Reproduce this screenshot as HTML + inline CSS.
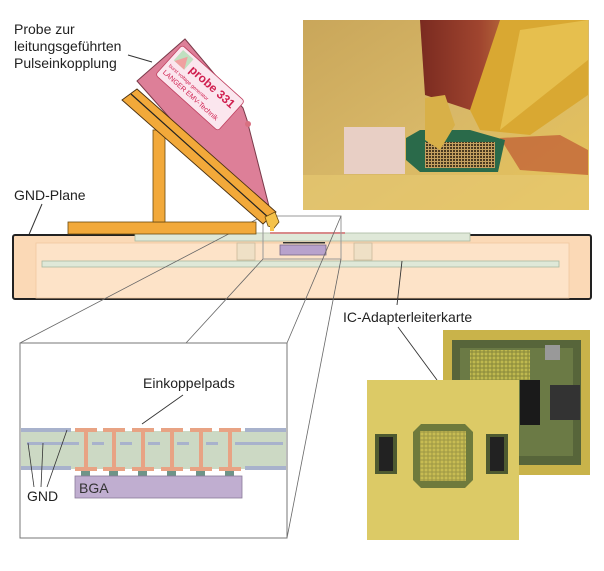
<!DOCTYPE html>
<html><head><meta charset="utf-8"><style>
html,body{margin:0;padding:0;background:#fff;width:604px;height:571px;overflow:hidden}
svg{display:block}
text{font-family:"Liberation Sans",sans-serif}
</style></head><body>
<svg width="604" height="571" viewBox="0 0 604 571" xmlns="http://www.w3.org/2000/svg">
<defs>
<linearGradient id="gold" x1="0" y1="0" x2="1" y2="1">
<stop offset="0" stop-color="#c9a65a"/><stop offset="0.5" stop-color="#d8b868"/><stop offset="1" stop-color="#e8c458"/>
</linearGradient>
<linearGradient id="red" x1="0" y1="0" x2="1" y2="0">
<stop offset="0" stop-color="#7a2a20"/><stop offset="0.6" stop-color="#a0452f"/><stop offset="1" stop-color="#c07a40"/>
</linearGradient>
<pattern id="grid" width="3" height="3" patternUnits="userSpaceOnUse"><rect width="3" height="3" fill="#c4a060"/><rect width="2" height="2" fill="#4a3a20"/></pattern>
<pattern id="grid2" width="4" height="4" patternUnits="userSpaceOnUse"><rect width="4" height="4" fill="#8a8a3a"/><rect x="0.5" y="0.5" width="3" height="3" fill="#c8c050"/></pattern>
</defs>

<rect x="303" y="20" width="286" height="190" fill="url(#gold)"/>
<rect x="344" y="127" width="61" height="47" fill="#e8cfc5"/>
<polygon points="420,20 520,20 510,95 470,110 425,95" fill="url(#red)"/>
<polygon points="500,20 588,20 588,95 530,135 480,130 470,110" fill="#d9a832"/>
<polygon points="520,30 588,20 588,60 500,130" fill="#e9c455" opacity="0.8"/>
<polygon points="500,138 560,135 588,150 588,175 520,170" fill="#c46a3a" opacity="0.85"/>
<polygon points="406,138 420,130 470,130 505,140 498,172 420,172 406,160" fill="#2a6a4a"/>
<rect x="425" y="142" width="70" height="26" fill="url(#grid)"/>
<polygon points="425,98 445,95 455,125 440,150 425,140" fill="#d8b048"/>
<rect x="303" y="175" width="286" height="35" fill="#e6c870" opacity="0.7"/>

<text x="14" y="34" font-size="14" fill="#222">Probe zur</text>
<text x="14" y="51" font-size="14" fill="#222">leitungsgeführten</text>
<text x="14" y="68" font-size="14" fill="#222">Pulseinkopplung</text>
<line x1="128" y1="55" x2="152" y2="62" stroke="#333" stroke-width="1"/>
<text x="14" y="200" font-size="14" fill="#222">GND-Plane</text>
<line x1="42" y1="204" x2="25" y2="244" stroke="#333" stroke-width="1"/>

<rect x="13" y="235" width="578" height="64" rx="2" fill="#fbd9b6" stroke="#222" stroke-width="2"/>
<rect x="36" y="243" width="533" height="55" fill="#fde3c8" stroke="#f0c8a0" stroke-width="0.8"/>
<rect x="135" y="233" width="335" height="8" fill="#dfe8d8" stroke="#a8b8a0" stroke-width="0.8"/>
<rect x="42" y="261" width="517" height="6" fill="#dfe8d8" stroke="#a8b8a0" stroke-width="0.8"/>
<rect x="237" y="243" width="18" height="17" fill="#efe0c6" stroke="#cbb99a" stroke-width="0.8"/>
<rect x="354" y="243" width="18" height="17" fill="#efe0c6" stroke="#cbb99a" stroke-width="0.8"/>
<rect x="270" y="232" width="75" height="2" fill="#d88a8a"/>
<rect x="283" y="242" width="42" height="1.5" fill="#333"/>
<rect x="280" y="245" width="46" height="10" fill="#b8a2cc" stroke="#776688" stroke-width="0.8"/>
<rect x="263" y="216" width="78" height="43" fill="none" stroke="#999" stroke-width="1"/>

<line x1="263" y1="216" x2="20" y2="343" stroke="#666" stroke-width="0.8"/>
<line x1="263" y1="259" x2="186" y2="343" stroke="#666" stroke-width="0.8"/>
<line x1="341" y1="216" x2="287" y2="343" stroke="#666" stroke-width="0.8"/>
<line x1="341" y1="259" x2="287" y2="538" stroke="#666" stroke-width="0.8"/>

<rect x="68" y="222" width="188" height="12" fill="#f2a93a" stroke="#6a4a10" stroke-width="0.8"/>
<rect x="153" y="130" width="12" height="92" fill="#f2a93a" stroke="#6a4a10" stroke-width="0.8"/>
<polygon points="137,81 185,39 243,108 247,120 272,218 262,222" fill="#dd7f98" stroke="#7a3a4a" stroke-width="1"/>
<circle cx="248" cy="124" r="3" fill="#d87080"/>
<polygon points="122,100 137,89 276,212 263,224" fill="#f2a93a" stroke="#4a3010" stroke-width="0.9"/>
<line x1="131" y1="94" x2="269" y2="218" stroke="#222" stroke-width="1.2"/>
<polygon points="265,217 275,212 279,222 274,228 268,226" fill="#f5c24a" stroke="#6a4a10" stroke-width="0.8"/>
<rect x="270" y="226" width="4" height="5" fill="#f5c24a"/>
<g transform="translate(200,88) rotate(42)">
<rect x="-42" y="-20" width="84" height="40" rx="3" fill="#fbe6ee" stroke="#c04060" stroke-width="0.8"/>
<rect x="-38" y="-17" width="14" height="14" fill="#c0e0c0"/>
<polygon points="-37,-3 -30,-15 -24,-3" fill="#f0a0a0"/>
<text x="-20" y="-5" font-size="12" fill="#d02050" font-weight="bold">probe 331</text>
<text x="-38" y="5" font-size="5" fill="#d02050">burst voltage generator</text>
<text x="-38" y="14" font-size="7" fill="#d02050">LANGER EMV-Technik</text>
</g>

<rect x="20" y="343" width="267" height="195" fill="#fff" stroke="#777" stroke-width="1"/>
<rect x="21" y="431" width="265" height="38" fill="#ccd9c4"/>
<rect x="21" y="428" width="50" height="4" fill="#a8b2cc"/>
<rect x="245" y="428" width="41" height="4" fill="#a8b2cc"/>
<rect x="21" y="466" width="50" height="4" fill="#a8b2cc"/>
<rect x="245" y="466" width="41" height="4" fill="#a8b2cc"/>
<g fill="#a8b2cc">
<rect x="27" y="442" width="52" height="3"/><rect x="92" y="442" width="12" height="3"/><rect x="120" y="442" width="12" height="3"/><rect x="148" y="442" width="12" height="3"/><rect x="177" y="442" width="12" height="3"/><rect x="206" y="442" width="12" height="3"/><rect x="235" y="442" width="48" height="3"/>
</g>
<g fill="#e8a384">
<rect x="75" y="428" width="22" height="4"/><rect x="84" y="432" width="4" height="35"/><rect x="75" y="467" width="22" height="4"/>
<rect x="103" y="428" width="22" height="4"/><rect x="112" y="432" width="4" height="35"/><rect x="103" y="467" width="22" height="4"/>
<rect x="132" y="428" width="22" height="4"/><rect x="141" y="432" width="4" height="35"/><rect x="132" y="467" width="22" height="4"/>
<rect x="161" y="428" width="22" height="4"/><rect x="170" y="432" width="4" height="35"/><rect x="161" y="467" width="22" height="4"/>
<rect x="190" y="428" width="22" height="4"/><rect x="199" y="432" width="4" height="35"/><rect x="190" y="467" width="22" height="4"/>
<rect x="219" y="428" width="22" height="4"/><rect x="228" y="432" width="4" height="35"/><rect x="219" y="467" width="22" height="4"/>
</g>
<g fill="#6f9488">
<rect x="81" y="471" width="9" height="5"/><rect x="109" y="471" width="9" height="5"/><rect x="138" y="471" width="9" height="5"/><rect x="167" y="471" width="9" height="5"/><rect x="196" y="471" width="9" height="5"/><rect x="225" y="471" width="9" height="5"/>
</g>
<rect x="75" y="476" width="167" height="22" fill="#c0aed0" stroke="#8a7a9a" stroke-width="0.8"/>
<text x="79" y="493" font-size="14" fill="#333">BGA</text>
<text x="143" y="388" font-size="14" fill="#222">Einkoppelpads</text>
<line x1="183" y1="395" x2="142" y2="424" stroke="#333" stroke-width="0.9"/>
<text x="27" y="501" font-size="14" fill="#222">GND</text>
<line x1="34" y1="487" x2="28" y2="443" stroke="#333" stroke-width="0.8"/>
<line x1="41" y1="487" x2="43" y2="443" stroke="#333" stroke-width="0.8"/>
<line x1="47" y1="487" x2="67" y2="430" stroke="#333" stroke-width="0.8"/>

<text x="343" y="322" font-size="14" fill="#222">IC-Adapterleiterkarte</text>
<line x1="398" y1="327" x2="437" y2="380" stroke="#333" stroke-width="0.9"/>
<line x1="402" y1="261" x2="397" y2="305" stroke="#333" stroke-width="0.9"/>

<rect x="443" y="330" width="147" height="145" fill="#c9b34a"/>
<rect x="452" y="340" width="129" height="125" fill="#57653a"/>
<rect x="460" y="348" width="113" height="108" fill="#6b7a45"/>
<rect x="470" y="350" width="60" height="30" fill="url(#grid2)" opacity="0.9"/>
<rect x="520" y="380" width="20" height="45" fill="#1a1a1a"/>
<rect x="550" y="385" width="30" height="35" fill="#333"/>
<rect x="545" y="345" width="15" height="15" fill="#999"/>
<rect x="367" y="380" width="152" height="160" fill="#dcca66"/>
<polygon points="413,432 421,424 465,424 473,432 473,480 465,488 421,488 413,480" fill="#6e7a3c"/>
<rect x="420" y="431" width="46" height="50" fill="#c8b45a"/>
<rect x="420" y="431" width="46" height="50" fill="url(#grid2)" opacity="0.7"/>
<rect x="375" y="434" width="22" height="40" fill="#4e5a30"/>
<rect x="379" y="437" width="14" height="34" fill="#222"/>
<rect x="486" y="434" width="22" height="40" fill="#4e5a30"/>
<rect x="490" y="437" width="14" height="34" fill="#222"/>
</svg>
</body></html>
